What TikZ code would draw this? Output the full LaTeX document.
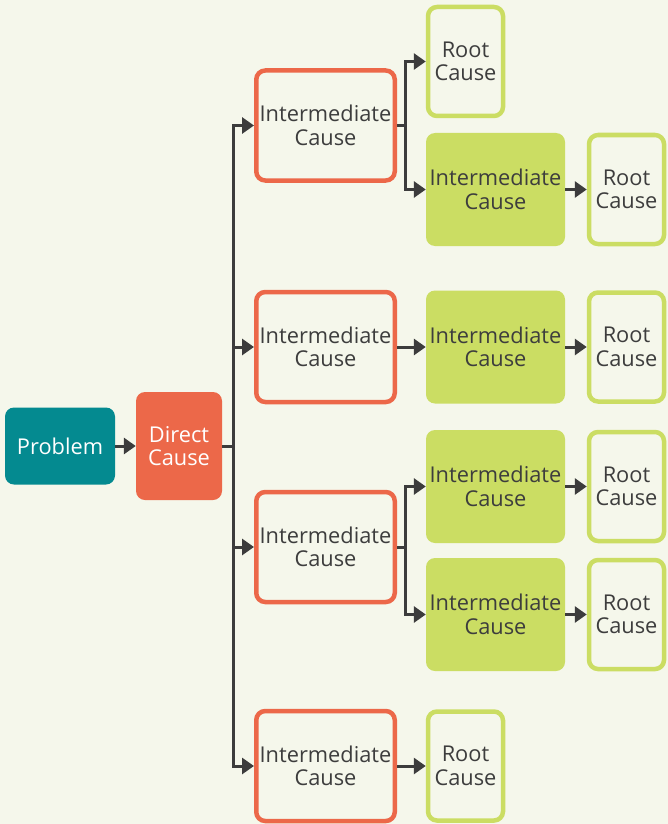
\documentclass[tikz,border=0pt]{standalone}
\usepackage{fontspec}
\setmainfont{Open Sans}
\usetikzlibrary{arrows.meta}
\definecolor{bgcol}{HTML}{F5F7EB}
\definecolor{tealcol}{HTML}{048A90}
\definecolor{orangecol}{HTML}{EC6849}
\definecolor{greencol}{HTML}{CBDD63}
\definecolor{linecol}{HTML}{3C3C3C}
\definecolor{textcol}{HTML}{3D3D3D}
\begin{document}
\begin{tikzpicture}[x=1pt,y=-1pt,
  box/.style={rounded corners=9pt, align=center, inner sep=0pt,
    font=\fontsize{21.8}{23.5}\selectfont, text=textcol},
  problembox/.style={box, fill=tealcol, text=white, minimum width=110pt, minimum height=77pt},
  directbox/.style={box, fill=orangecol, text=white, minimum width=86pt, minimum height=108pt},
  midbox/.style={box, draw=orangecol, line width=4.5pt, fill=bgcol, minimum width=138.5pt, minimum height=110pt},
  greenbox/.style={box, fill=greencol, minimum width=139pt, minimum height=113pt},
  rootbox/.style={box, draw=greencol, line width=4.5pt, fill=bgcol, minimum width=75pt, minimum height=109pt},
  link/.style={draw=linecol, line width=3pt},
  arr/.style={link, -{Triangle[length=12pt,width=16pt]}}]
\fill[bgcol] (0,0) rectangle (668,824);
\useasboundingbox (0,0) rectangle (668,824);

% main chain
\node[problembox] (prob) at (60,446) {Problem};
\node[directbox] (dc) at (179,446) {Direct\\Cause};

% intermediate causes
\node[midbox] (ic1) at (325.5,125.5) {Intermediate\\Cause};
\node[midbox] (ic2) at (325.5,347) {Intermediate\\Cause};
\node[midbox] (ic3) at (325.5,547) {Intermediate\\Cause};
\node[midbox] (ic4) at (325.5,766) {Intermediate\\Cause};

% second-level intermediate causes
\node[greenbox] (g1) at (495.5,189.5) {Intermediate\\Cause};
\node[greenbox] (g2) at (495.5,347) {Intermediate\\Cause};
\node[greenbox] (g3) at (495.5,486.5) {Intermediate\\Cause};
\node[greenbox] (g4) at (495.5,614.5) {Intermediate\\Cause};

% root causes
\node[rootbox] (r1) at (465.5,61.5) {Root\\Cause};
\node[rootbox] (r2) at (626.5,189.5) {Root\\Cause};
\node[rootbox] (r3) at (626.5,347) {Root\\Cause};
\node[rootbox] (r4) at (626.5,486.5) {Root\\Cause};
\node[rootbox] (r5) at (626.5,614.5) {Root\\Cause};
\node[rootbox] (r6) at (465.5,766) {Root\\Cause};

% connectors
\draw[arr] (prob) -- (dc);
\coordinate (trunk) at (233,446);
\draw[link] (dc.east) -- (trunk);
\foreach \n in {ic1,ic2,ic3,ic4}
  \draw[arr] (trunk) |- (\n.west);

\draw[arr] (ic1.east) -- ++(8,0) |- (r1.west);
\draw[arr] (ic1.east) -- ++(8,0) |- (g1.west);
\draw[arr] (g1) -- (r2);

\draw[arr] (ic2) -- (g2);
\draw[arr] (g2) -- (r3);

\draw[arr] (ic3.east) -- ++(8,0) |- (g3.west);
\draw[arr] (ic3.east) -- ++(8,0) |- (g4.west);
\draw[arr] (g3) -- (r4);
\draw[arr] (g4) -- (r5);

\draw[arr] (ic4) -- (r6);
\end{tikzpicture}
\end{document}
